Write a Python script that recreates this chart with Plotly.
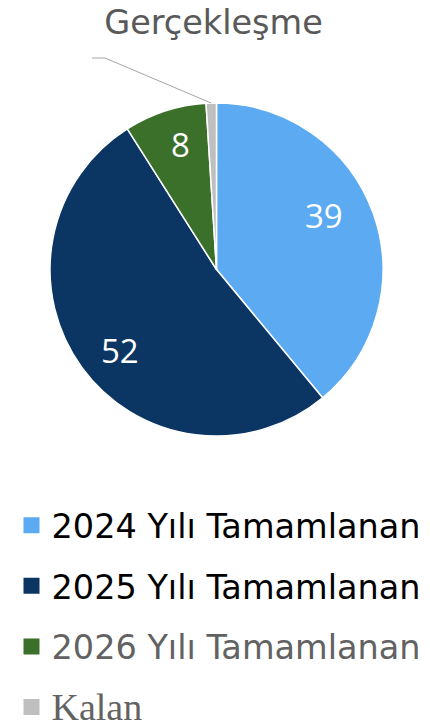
import math
import plotly.graph_objects as go

# ---- data ----
labels = ["2024 Yılı Tamamlanan", "2025 Yılı Tamamlanan", "2026 Yılı Tamamlanan", "Kalan"]
values = [39, 52, 8, 1]
slice_text = ["39", "52", "8", ""]
colors = ["#5BAAF2", "#0B3563", "#3A7029", "#BFBFBF"]
title_text = "Gerçekleşme"

# label placement along each slice's bisector (style only)
label_rfrac = [0.72, 0.76, 0.78, 0.0]
label_dang = [-7.0, -4.0, 2.0, 0.0]

W, H = 430, 725
cx, cy, r = 216.5, 269.5, 166.5

def px(x):
    return x / W
def py(y):
    return 1 - y / H

fig = go.Figure()
fig.add_trace(go.Pie(
    labels=labels, values=values, textinfo="none",
    sort=False, direction="clockwise", rotation=0,
    marker=dict(colors=colors, line=dict(color="white", width=1.5)),
    domain=dict(x=[px(cx - r), px(cx + r)], y=[py(cy + r), py(cy - r)]),
    showlegend=False, hoverinfo="label+value",
))

# value labels, positioned from the data (slice bisectors)
tot = sum(values)
cum = 0
for v, t, rf, da in zip(values, slice_text, label_rfrac, label_dang):
    mid = (cum + v / 2) / tot
    cum += v
    if not t:
        continue
    a = 2 * math.pi * mid + math.radians(da)
    x = cx + rf * r * math.sin(a)
    y = cy - rf * r * math.cos(a)
    fig.add_annotation(x=px(x), y=py(y), xref="paper", yref="paper", text=t, showarrow=False,
                       xanchor="center", yanchor="middle",
                       font=dict(family="Open Sans", size=33, color="white"))

legend_names = [
    labels[0],
    labels[1],
    '<span style="color:#626262">' + labels[2] + '</span>',
    '<span style="font-family:Liberation Serif;font-size:38px;color:#626262">' + labels[3] + '</span>',
]
for i, nm in enumerate(legend_names):
    fig.add_trace(go.Scatter(
        x=[None], y=[None], mode="markers", name=nm, legendgroup="g%d" % i,
        marker=dict(symbol="square", size=16, color=colors[i]),
        showlegend=True, hoverinfo="skip",
    ))

# leader line for the small slice, end point derived from data
frac_mid = (sum(values[:3]) + values[3] / 2) / tot
ang = 2 * math.pi * frac_mid
ex = cx + r * math.sin(ang)
ey = cy - r * math.cos(ang)
fig.add_shape(type="path", xref="paper", yref="paper",
              path="M %f,%f L %f,%f L %f,%f" % (px(92), py(58), px(105), py(58), px(ex), py(ey)),
              line=dict(color="#A6A6A6", width=1))

fig.update_layout(
    width=W, height=H,
    margin=dict(l=0, r=0, t=0, b=0, autoexpand=False),
    paper_bgcolor="white", plot_bgcolor="white",
    title=dict(text=title_text, x=213.5 / W, xanchor="center", y=1 - 22 / H, yanchor="middle",
               font=dict(family="DejaVu Sans", size=33.5, color="#595959")),
    xaxis=dict(visible=False), yaxis=dict(visible=False),
    legend=dict(x=11.5 / W, xanchor="left", y=1 - 497 / H, yanchor="top",
                font=dict(family="DejaVu Sans", size=33.5, color="black"),
                tracegroupgap=14, bgcolor="rgba(0,0,0,0)", itemclick=False),
)

fig.write_html("out.html", config={"displayModeBar": False},
               post_script="document.body.style.margin='0';")
